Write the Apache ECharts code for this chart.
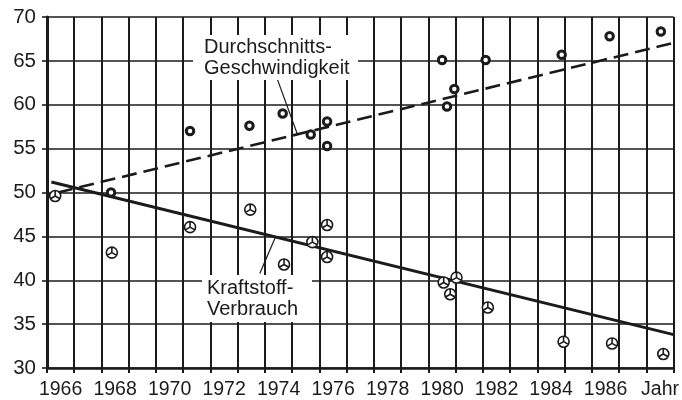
<!DOCTYPE html>
<html>
<head>
<meta charset="utf-8">
<script src="https://cdn.jsdelivr.net/npm/echarts@6/dist/echarts.min.js"></script>
<style>
  html, body { margin: 0; padding: 0; background: #fff; }
  #chart { width: 682px; height: 400px; }
</style>
</head>
<body>
<div id="chart"></div>
<script>
// ---- data ----
const speedYears  = [1967.85, 1970.75, 1972.93, 1974.15, 1975.18, 1975.78, 1975.78, 1980.0, 1980.18, 1980.45, 1981.6, 1984.39, 1986.15, 1988.03];
const speedValues = [50.0,    57.0,    57.6,    59.0,    56.6,    58.1,    55.3,    65.1,   59.8,    61.8,    65.1,   65.7,    67.8,    68.35];

const fuelYears  = [1965.8, 1967.88, 1970.75, 1972.96, 1974.2, 1975.24, 1975.78, 1975.78, 1980.06, 1980.53, 1980.3, 1981.68, 1984.46, 1986.24, 1988.12];
const fuelValues = [49.6,   43.15,   46.05,   48.05,   41.8,   44.35,   46.3,    42.65,   39.75,   40.3,    38.4,   36.9,    33.0,    32.8,    31.6];

const speedTrendYears  = [1965.9, 1988.5];
const speedTrendValues = [50.0, 67.05];
const fuelTrendYears   = [1965.66, 1988.5];
const fuelTrendValues  = [51.2, 33.8];

const xLabelValues = [1966, 1968, 1970, 1972, 1974, 1976, 1978, 1980, 1982, 1984, 1986, 1988];
const xLabelTexts  = ['1966', '1968', '1970', '1972', '1974', '1976', '1978', '1980', '1982', '1984', '1986', 'Jahr'];
const xGridValues  = [1965.5, 1966.5, 1967.5, 1968.5, 1969.5, 1970.5, 1971.5, 1972.5, 1973.5, 1974.5, 1975.5, 1976.5,
                      1977.5, 1978.5, 1979.5, 1980.5, 1981.5, 1982.5, 1983.5, 1984.5, 1985.5, 1986.5, 1987.5, 1988.5];

const speedLabel = 'Durchschnitts-\nGeschwindigkeit';
const fuelLabel  = 'Kraftstoff-\nVerbrauch';
const speedLeader = [[1973.96, 62.86], [1974.69, 56.63]];
const fuelLeader  = [[1973.31, 40.77], [1973.89, 44.96]];

const pair = (xs, ys) => xs.map((x, i) => [x, ys[i]]);

const INK = '#1b1b1b';
const FONT = '"Liberation Sans", Arial, Helvetica, sans-serif';
const mercedes = 'path://M10,0A10,10,0,1,1,10,20A10,10,0,1,1,10,0Z M10,10L10,0 M10,10L1.34,15 M10,10L18.66,15';

const chart = echarts.init(document.getElementById('chart'), null, { renderer: 'canvas' });

chart.setOption({
  backgroundColor: '#fff',
  animation: false,
  grid: { left: 47, right: 2, top: 17, bottom: 30, containLabel: false },
  xAxis: {
    type: 'value',
    min: 1965.5,
    max: 1988.5,
    axisLine: { show: true, onZero: false, lineStyle: { color: INK, width: 2.6 } },
    axisTick: { show: true, length: 5, customValues: xGridValues, lineStyle: { color: INK, width: 2 } },
    axisLabel: {
      customValues: xLabelValues,
      formatter: v => xLabelTexts[xLabelValues.indexOf(v)],
      color: INK, fontSize: 19.5, fontFamily: FONT, margin: 12
    },
    splitLine: { show: true, lineStyle: { color: INK, width: 2 } }
  },
  yAxis: {
    type: 'value',
    min: 30, max: 70, interval: 5,
    axisLine: { show: true, onZero: false, lineStyle: { color: INK, width: 3 } },
    axisTick: { show: true, length: 5, lineStyle: { color: INK, width: 1.6 } },
    axisLabel: { color: INK, fontSize: 20.5, fontFamily: FONT, margin: 11 },
    splitLine: { show: true, lineStyle: { color: INK, width: 1.5 } }
  },
  series: [
    {
      name: 'speedTrend', type: 'line', data: pair(speedTrendYears, speedTrendValues),
      symbol: 'none', silent: true, z: 3,
      lineStyle: { color: INK, width: 2.6, type: [15, 7] }
    },
    {
      name: 'fuelTrend', type: 'line', data: pair(fuelTrendYears, fuelTrendValues),
      symbol: 'none', silent: true, z: 3,
      lineStyle: { color: INK, width: 3 }
    },
    {
      name: 'speedLeader', type: 'line', data: speedLeader,
      symbol: 'none', silent: true, z: 3,
      lineStyle: { color: INK, width: 1.2 }
    },
    {
      name: 'fuelLeader', type: 'line', data: fuelLeader,
      symbol: 'none', silent: true, z: 3,
      lineStyle: { color: INK, width: 1.2 }
    },
    {
      name: 'Durchschnitts-Geschwindigkeit', type: 'scatter', data: pair(speedYears, speedValues),
      symbol: 'circle', symbolSize: 7.5, z: 5,
      itemStyle: { color: '#fff', borderColor: INK, borderWidth: 3, opacity: 1 }
    },
    {
      name: 'Kraftstoff-Verbrauch', type: 'scatter', data: pair(fuelYears, fuelValues),
      symbol: mercedes, symbolSize: 11, z: 5,
      itemStyle: { color: '#fff', borderColor: INK, borderWidth: 1.6, opacity: 1 }
    }
  ],
  graphic: [
    { type: 'rect', z: 50, silent: true, shape: { x: 193, y: 35, width: 165, height: 45 }, style: { fill: '#fff' } },
    { type: 'text', z: 51, silent: true, x: 204, y: 37,
      style: { text: speedLabel, fill: INK, font: '20px ' + FONT, lineHeight: 21, textAlign: 'left', textVerticalAlign: 'top' } },
    { type: 'rect', z: 50, silent: true, shape: { x: 202, y: 275, width: 110, height: 47 }, style: { fill: '#fff' } },
    { type: 'text', z: 51, silent: true, x: 207, y: 278,
      style: { text: fuelLabel, fill: INK, font: '20px ' + FONT, lineHeight: 21, textAlign: 'left', textVerticalAlign: 'top' } }
  ]
});
</script>
</body>
</html>
